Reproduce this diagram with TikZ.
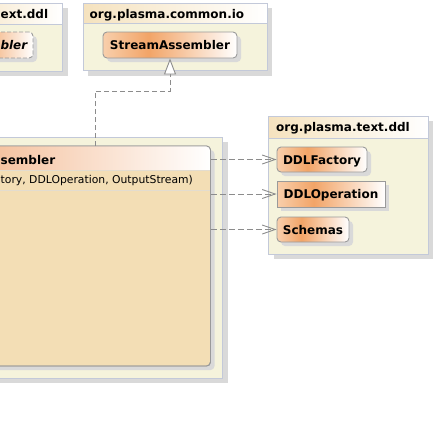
\documentclass[tikz,border=0pt]{standalone}
\usepackage{fontspec}
\setmainfont{DejaVu Sans}
\usetikzlibrary{arrows.meta,shadows}
\definecolor{pkgbody}{HTML}{F5F3DC}
\definecolor{pkgline}{HTML}{C3C9D9}
\definecolor{pkghead}{HTML}{F5E2BE}
\definecolor{shadowc}{HTML}{D9D9D9}
\definecolor{clsline}{HTML}{9A9A9A}
\definecolor{clsA}{HTML}{F8CFAC}
\definecolor{clsB}{HTML}{F2A467}
\definecolor{clsbody}{HTML}{F3DEB5}
\definecolor{clshead}{HTML}{F3B68C}
\definecolor{sepline}{HTML}{E3DCCF}
\definecolor{conn}{HTML}{8C8C8C}
\pgfdeclarehorizontalshading{clsgrad}{100bp}{color(0bp)=(clsA); color(25bp)=(clsA); color(42bp)=(clsB); color(75bp)=(white); color(100bp)=(white)}
\newcommand\myboldf{\fontsize{12bp}{14bp}\selectfont\bfseries}
\newcommand\myregf{\fontsize{10.8bp}{13bp}\selectfont}
\tikzset{
  pkgshadow/.style={fill=shadowc},
  pkgfill/.style={fill=pkgbody},
  pkghdr/.style={left color=pkghead, right color=white},
  pkgborder/.style={draw=pkgline, line width=1bp},
  ptitle/.style={font=\myboldf, inner sep=0pt},
  clsnode/.style={draw=clsline, line width=0.9bp, rounded corners=4bp, shade, shading=clsgrad,
    inner sep=0pt, text height=9bp, text depth=0bp, font=\myboldf,
    drop shadow={shadow xshift=4bp, shadow yshift=-4bp, fill=shadowc, opacity=1}},
  bigcls/.style={draw=clsline, line width=0.9bp, rounded corners=4bp, fill=clsbody, inner sep=0pt,
    drop shadow={shadow xshift=4bp, shadow yshift=-4bp, fill=shadowc, opacity=1}},
  realize/.style={draw=conn, line width=0.9bp, dash pattern=on 5bp off 3bp,
    -{Triangle[length=16bp, width=12bp, fill=white]}},
  dep/.style={draw=conn, line width=0.9bp, dash pattern=on 6bp off 3bp,
    -{Straight Barb[length=13bp, width=9bp]}}
}
\begin{document}
\begin{tikzpicture}[x=1bp, y=-1bp]
\useasboundingbox (0,0) rectangle (436,421);
\clip (0,0) rectangle (436,421);

% package (left, cut)
\fill[pkgshadow] (-45,8) rectangle (67.5,76);
\fill[pkgfill] (-50,3) rectangle (62.5,71);
\shade[pkghdr] (-50,3) rectangle (62.5,24);
\draw[pkgborder] (-50,24) -- (62.5,24);
\draw[pkgborder] (-50,3) rectangle (62.5,71);
\node[ptitle, anchor=base west] (t1) at (0.5,18.5) {ext.ddl};
\node[clsnode, dash pattern=on 4bp off 2bp, minimum width=83bp, minimum height=26bp] (ab) at (-8.5,45) {};
\node[font=\myboldf\itshape, inner sep=0pt, anchor=base east] (abt) at (27.5,49.5) {bler};

% package org.plasma.common.io
\fill[pkgshadow] (88,8) rectangle (272,76);
\fill[pkgfill] (83,3) rectangle (267,70.5);
\shade[pkghdr] (83,3) rectangle (267,23.5);
\draw[pkgborder] (83,23.5) -- (267,23.5);
\draw[pkgborder] (83,3) rectangle (267,70.5);
\node[ptitle, anchor=base west] (t2) at (89.5,18.5) {org.plasma.common.io};
\node[clsnode, minimum width=134bp, minimum height=26bp] (sa) at (170,45) {StreamAssembler};

% package (big, cut)
\fill[pkgshadow] (-45,142.3) rectangle (228,383.3);
\fill[pkgfill] (-50,137.3) rectangle (222.7,378.3);
\draw[pkgborder] (-50,137.3) rectangle (222.7,378.3);
\node[bigcls, minimum width=260.5bp, minimum height=220bp] (c) at (80.25,256) {};
\begin{scope}
  \clip[rounded corners=4bp] (-50,146) rectangle (210.5,366);
  \shade[left color=clshead, right color=white] (-50,146) rectangle (210.5,170.7);
\end{scope}
\draw[sepline, line width=1bp] (-50,170.7) -- (210,170.7);
\draw[sepline, line width=1bp] (-50,190.5) -- (210,190.5);
\draw[clsline, line width=0.9bp, rounded corners=4bp] (-50,146) rectangle (210.5,366);
\node[font=\myboldf, inner sep=0pt, anchor=base west] (ct) at (0.5,164) {sembler};
\node[font=\myregf, inner sep=0pt, anchor=base west] (ca) at (0.5,183) {tory, DDLOperation, OutputStream)};

% package org.plasma.text.ddl
\fill[pkgshadow] (273.7,121) rectangle (433,259);
\fill[pkgfill] (268.7,116) rectangle (428,254);
\shade[pkghdr] (268.7,116) rectangle (428,138.3);
\draw[pkgborder] (268.7,138.3) -- (428,138.3);
\draw[pkgborder] (268.7,116) rectangle (428,254);
\node[ptitle, anchor=base west] (t4) at (276,131) {org.plasma.text.ddl};
\node[clsnode, minimum width=90bp, minimum height=25bp] (f) at (322,159.5) {DDLFactory};
\node[clsnode, sharp corners, minimum width=108bp, minimum height=26bp] (o) at (331,194) {DDLOperation};
\node[clsnode, minimum width=72bp, minimum height=25bp] (s) at (313,229.5) {Schemas};

% connectors
\coordinate (cT) at (95,146);
\coordinate (bend) at (170,91.3);
\draw[realize] (cT) |- (bend) -- (sa.south);
\draw[dep] (c.east |- f.west) -- (f.west);
\draw[dep] (c.east |- o.west) -- (o.west);
\draw[dep] (c.east |- s.west) -- (s.west);
\end{tikzpicture}
\end{document}
